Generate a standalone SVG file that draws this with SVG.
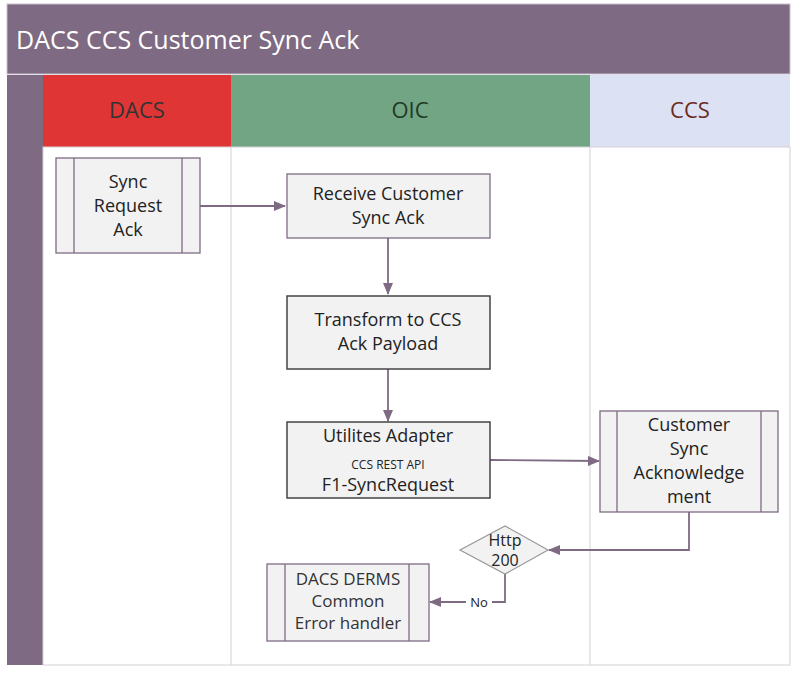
<svg xmlns="http://www.w3.org/2000/svg" width="796" height="675" viewBox="0 0 796 675">
<defs>
<marker id="ah" markerWidth="12" markerHeight="10" refX="11" refY="5" orient="auto" markerUnits="userSpaceOnUse"><path d="M0,0 L12,5 L0,10 z" fill="#7f6a83"/></marker>
</defs>
<style>
text{font-family:"Open Sans","Noto Sans",sans-serif;text-anchor:middle;fill:#222}
.box{fill:#f2f2f2;stroke:#7f6a83;stroke-width:1.3}
.bold{fill:#f2f2f2;stroke:#444;stroke-width:1.5}
.sub{fill:none;stroke:#7f6a83;stroke-width:1.3}
.c{fill:none;stroke:#7f6a83;stroke-width:1.8}
.t{font-size:18px}
</style>
<rect x="0" y="0" width="796" height="675" fill="#fff"/>
<rect x="7" y="4" width="783" height="70" fill="#7f6a83" stroke="#c8c0cc"/>
<text x="16" y="49" style="text-anchor:start;fill:#fff;font-size:25px">DACS CCS Customer Sync Ack</text>
<rect x="7" y="75" width="36" height="590" fill="#7f6a83"/>
<rect x="43" y="75" width="188" height="72" fill="#e03535"/>
<rect x="231" y="75" width="359" height="72" fill="#72a583"/>
<rect x="590" y="75" width="200" height="72" fill="#dde1f4"/>
<text x="137" y="118" style="font-size:22px;fill:#333">DACS</text>
<text x="410" y="118" style="font-size:22px;fill:#1e3a26">OIC</text>
<text x="690" y="118" style="font-size:22px;fill:#6b2b1d">CCS</text>
<rect x="43" y="147" width="747" height="518" fill="#fff" stroke="#d5d0d8"/>
<line x1="231" y1="147" x2="231" y2="665" stroke="#d5d0d8"/>
<line x1="590" y1="147" x2="590" y2="665" stroke="#d5d0d8"/>
<g id="connectors">
<path class="c" d="M200,206 H285" marker-end="url(#ah)"/>
<path class="c" d="M388,238 V294" marker-end="url(#ah)"/>
<path class="c" d="M388,369 V421" marker-end="url(#ah)"/>
<path class="c" d="M490,460 L599,461" marker-end="url(#ah)"/>
<path class="c" d="M689,512 V550 H549" marker-end="url(#ah)"/>
<path class="c" d="M505,573 V602 H430" marker-end="url(#ah)"/>
<rect x="466" y="594" width="26" height="16" fill="#fff"/>
<text x="479" y="607" style="font-size:13px">No</text>
</g>
<g id="n1"><rect class="box" x="56" y="158" width="144" height="95"/><path class="sub" d="M74,158 V253 M182,158 V253"/>
<text class="t" x="128" y="188">Sync</text><text class="t" x="128" y="212">Request</text><text class="t" x="128" y="236">Ack</text></g>
<g id="n2"><rect class="box" x="287" y="174" width="203" height="64"/>
<text class="t" x="388" y="200">Receive Customer</text><text class="t" x="388" y="224">Sync Ack</text></g>
<g id="n3"><rect class="bold" x="287" y="296" width="203" height="73"/>
<text class="t" x="388" y="326">Transform to CCS</text><text class="t" x="388" y="350">Ack Payload</text></g>
<g id="n4"><rect class="bold" x="287" y="422" width="203" height="76"/>
<text class="t" x="388" y="442">Utilites Adapter</text><text x="388" y="469" style="font-size:12px">CCS REST API</text><text class="t" x="388" y="491">F1-SyncRequest</text></g>
<g id="n5"><rect class="box" x="600" y="411" width="178" height="101"/><path class="sub" d="M617,411 V512 M761,411 V512"/>
<text class="t" x="689" y="431">Customer</text><text class="t" x="689" y="455">Sync</text><text class="t" x="689" y="479">Acknowledge</text><text class="t" x="689" y="503">ment</text></g>
<g id="n6"><path d="M505,526 L548,550 L505,574 L460,550 z" fill="#f2f2f2" stroke="#999" stroke-width="1.2"/>
<text x="505" y="546" style="font-size:16px">Http</text><text x="505" y="566" style="font-size:16px">200</text></g>
<g id="n7"><rect class="box" x="267" y="564" width="162" height="77"/><path class="sub" d="M285,564 V641 M409,564 V641"/>
<text x="348" y="585" style="font-size:17px;fill:#333">DACS DERMS</text><text x="348" y="607" style="font-size:17px;fill:#333">Common</text><text x="348" y="629" style="font-size:17px;fill:#333">Error handler</text></g>
</svg>
